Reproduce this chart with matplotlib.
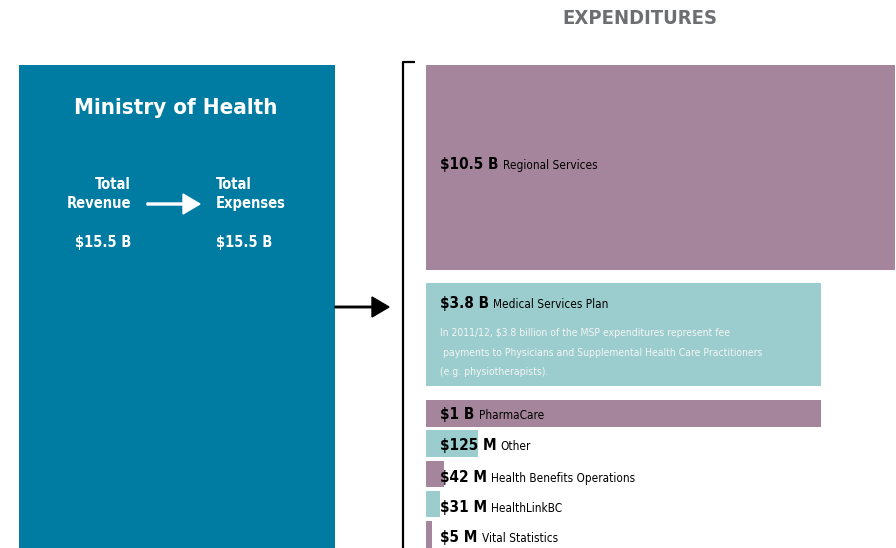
import matplotlib.pyplot as plt
from matplotlib import font_manager

# expenditures (label value, name) and drawn bar lengths / heights in px
values = ["$10.5 B", "$3.8 B", "$1 B", "$125 M", "$42 M", "$31 M", "$5 M"]
names = ["Regional Services", "Medical Services Plan", "PharmaCare", "Other",
         "Health Benefits Operations", "HealthLinkBC", "Vital Statistics"]
bar_len = [469, 395, 395, 52, 18, 14, 6]
bar_top = [65, 283, 400, 430, 461, 491, 521]
bar_h = [205, 103, 27, 27, 26, 26, 27]
label_y = [169, 308, 419, 450, 482, 512, 542]

msp_note = ["In 2011/12, $3.8 billion of the MSP expenditures represent fee",
            " payments to Physicians and Supplemental Health Care Practitioners",
            "(e.g. physiotherapists)."]

revenue = "$15.5 B"
expenses = "$15.5 B"

PURPLE = "#a5859b"
TEAL = "#9bcdce"
BLUE = "#007ba1"
GREY = "#6d6e71"
colors = [PURPLE, TEAL, PURPLE, TEAL, PURPLE, TEAL, PURPLE]

installed = {f.name for f in font_manager.fontManager.ttflist}
BOLD = dict(family="DejaVu Sans", fontstretch="condensed", fontweight="bold")
if "Liberation Sans Narrow" in installed:
    NARROW = dict(family="Liberation Sans Narrow")
    name_size, note_size = 10, 8.5
else:
    NARROW = dict(family="DejaVu Sans", fontstretch="condensed")
    name_size, note_size = 8.5, 7.5

fig = plt.figure(figsize=(8.96, 5.48), dpi=100)
ax = fig.add_axes([0, 0, 1, 1])
ax.set_xlim(0, 896)
ax.set_ylim(548, 0)
ax.axis("off")

# left panel
ax.bar(19 + 316 / 2, 548 - 65, width=316, bottom=65, color=BLUE)
ax.text(176, 108, "Ministry of Health", color="white", fontsize=16, ha="center", va="center", **BOLD)
ax.text(131, 194, "Total\nRevenue", color="white", fontsize=10.5, ha="right", va="center",
        multialignment="right", linespacing=1.3, **BOLD)
ax.text(216, 194, "Total\nExpenses", color="white", fontsize=10.5, ha="left", va="center",
        linespacing=1.3, **BOLD)
ax.text(131, 242, revenue, color="white", fontsize=10.5, ha="right", va="center", **BOLD)
ax.text(216, 242, expenses, color="white", fontsize=10.5, ha="left", va="center", **BOLD)
ax.arrow(147, 204, 36, 0, width=2, head_width=20, head_length=17, color="white",
         length_includes_head=False)

# connector arrow and bracket
ax.arrow(335, 307, 37, 0, width=1.5, head_width=20, head_length=17, color="black")
ax.plot([415, 403, 403], [62, 62, 548], color="black", lw=1.6, solid_capstyle="butt")

ax.text(640, 18, "EXPENDITURES", color=GREY, fontsize=14.5, ha="center", va="center", **BOLD)

# bars
ax.barh([t + h / 2 for t, h in zip(bar_top, bar_h)], bar_len, height=bar_h, left=426,
        color=colors)

for v, n, y in zip(values, names, label_y):
    t = ax.text(440, y, v, fontsize=11, color="black", va="baseline", **BOLD)
    ax.annotate(n, xy=(1, y), xycoords=(t, "data"), xytext=(3, 0), textcoords="offset points",
                va="baseline", fontsize=name_size, color="black", **NARROW)

for i, line in enumerate(msp_note):
    ax.text(440, 336 + i * 19.5, line, fontsize=note_size, color="#f4f4f4", va="baseline", **NARROW)

fig.savefig("out.png", dpi=100)
